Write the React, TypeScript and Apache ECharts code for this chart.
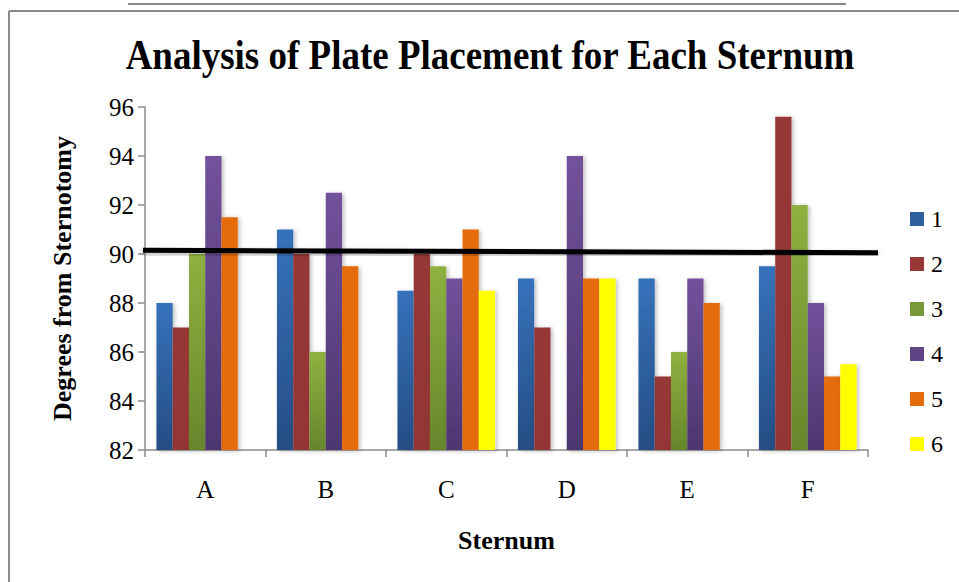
import React, { useEffect, useRef } from "react";
import * as echarts from "echarts";

const categories = ["A", "B", "C", "D", "E", "F"];
const seriesNames = ["1", "2", "3", "4", "5", "6"];
const s1 = [88, 91, 88.5, 89, 89, 89.5];
const s2 = [87, 90, 90, 87, 85, 95.6];
const s3 = [90, 86, 89.5, 82, 86, 92];
const s4 = [94, 92.5, 89, 94, 89, 88];
const s5 = [91.5, 89.5, 91, 89, 88, 85];
const s6 = [82, 82, 88.5, 89, 82, 85.5];
const seriesValues = [s1, s2, s3, s4, s5, s6];
const yTicks = [82, 84, 86, 88, 90, 92, 94, 96];
const referenceLine = [90.15, 90.05];
const titleText = "Analysis of Plate Placement for Each Sternum";

const colorTop = ["#3672bb", "#963735", "#8eb140", "#72529b", "#e56c0b", "#ffff00"];
const colorBottom = ["#254d84", "#943634", "#67862c", "#4d3670", "#e46c0a", "#ffff00"];
const legendColors = ["#2f5f9e", "#953735", "#78993a", "#5f4586", "#e46c0a", "#ffff00"];

const FONT = "'Liberation Serif', 'Times New Roman', serif";

export default function App() {
  const ref = useRef<HTMLDivElement>(null);
  useEffect(() => {
    if (!ref.current) return;
    const chart = echarts.init(ref.current, null, { renderer: "svg" });
    const baseGraphic: any[] = [
      { type: "line", shape: { x1: 128, y1: 4, x2: 846, y2: 4 }, style: { stroke: "#8a8a8a", lineWidth: 2 } },
      { type: "line", shape: { x1: 9, y1: 11, x2: 959, y2: 11 }, style: { stroke: "#8a8a8a", lineWidth: 2 } },
      { type: "line", shape: { x1: 9, y1: 11, x2: 9, y2: 582 }, style: { stroke: "#8a8a8a", lineWidth: 2 } },
      {
        type: "text",
        x: 490,
        y: 55,
        scaleY: 1.15,
        style: {
          text: titleText,
          fontFamily: FONT,
          fontSize: 37,
          fontWeight: "bold",
          fill: "#000",
          textAlign: "center",
          textVerticalAlign: "middle",
        },
      },
    ];
    const option: any = {
      animation: false,
      backgroundColor: "#ffffff",
      grid: { left: 145, right: 91, top: 107, bottom: 132, containLabel: false },
      legend: {
        orient: "vertical",
        left: 905,
        top: 202,
        itemWidth: 14,
        itemHeight: 14,
        itemGap: 21,
        icon: "rect",
        data: seriesNames.map((n, i) => ({ name: n, itemStyle: { color: legendColors[i] } })),
        textStyle: { fontFamily: FONT, fontSize: 24, color: "#000", padding: [0, 0, 0, 2] },
      },
      xAxis: {
        type: "category",
        data: categories,
        name: "Sternum",
        nameLocation: "middle",
        nameGap: 77,
        nameTextStyle: { fontFamily: FONT, fontSize: 26, fontWeight: "bold", color: "#000" },
        axisLine: { lineStyle: { color: "#8c8c8c", width: 1.5 } },
        axisTick: { show: true, length: 7, lineStyle: { color: "#8c8c8c", width: 1.5 }, alignWithLabel: false },
        axisLabel: { fontFamily: FONT, fontSize: 25, color: "#000", margin: 27 },
      },
      yAxis: {
        type: "value",
        min: 82,
        max: 96,
        interval: 2,
        name: "Degrees from Sternotomy",
        nameLocation: "middle",
        nameGap: 70,
        nameRotate: 90,
        nameTextStyle: { fontFamily: FONT, fontSize: 26, fontWeight: "bold", color: "#000" },
        axisLine: { show: true, lineStyle: { color: "#8c8c8c", width: 1.5 } },
        axisTick: { show: true, length: 7, lineStyle: { color: "#8c8c8c", width: 1.5 } },
        axisLabel: { fontFamily: FONT, fontSize: 25, color: "#000", margin: 11,
          formatter: (v: number) => (yTicks.includes(v) ? String(v) : "") },
        splitLine: { show: false },
      },
      series: seriesValues.map((vals, i) => ({
        name: seriesNames[i],
        type: "bar",
        data: vals,
        barGap: "0%",
        barCategoryGap: "19%",
        itemStyle: {
          color: new echarts.graphic.LinearGradient(0, 0, 0, 1, [
            { offset: 0, color: colorTop[i] },
            { offset: 1, color: colorBottom[i] },
          ]),
          shadowColor: "rgba(0,0,0,0.25)",
          shadowBlur: 4,
          shadowOffsetX: 2,
          shadowOffsetY: 1,
        },
      })),
      graphic: baseGraphic,
    };
    chart.setOption(option);
    const yL = chart.convertToPixel({ yAxisIndex: 0 }, referenceLine[0]) as number;
    const yR = chart.convertToPixel({ yAxisIndex: 0 }, referenceLine[1]) as number;
    chart.setOption({
      graphic: [
        ...baseGraphic,
        {
          type: "line",
          z: 100,
          shape: { x1: 143, y1: yL, x2: 878, y2: yR },
          style: { stroke: "#000", lineWidth: 5, shadowColor: "rgba(0,0,0,0.3)", shadowBlur: 4, shadowOffsetY: 2 },
        },
      ],
    });
    return () => chart.dispose();
  }, []);
  return <div ref={ref} style={{ width: 959, height: 582, position: "absolute", left: 0, top: 0 }} />;
}
